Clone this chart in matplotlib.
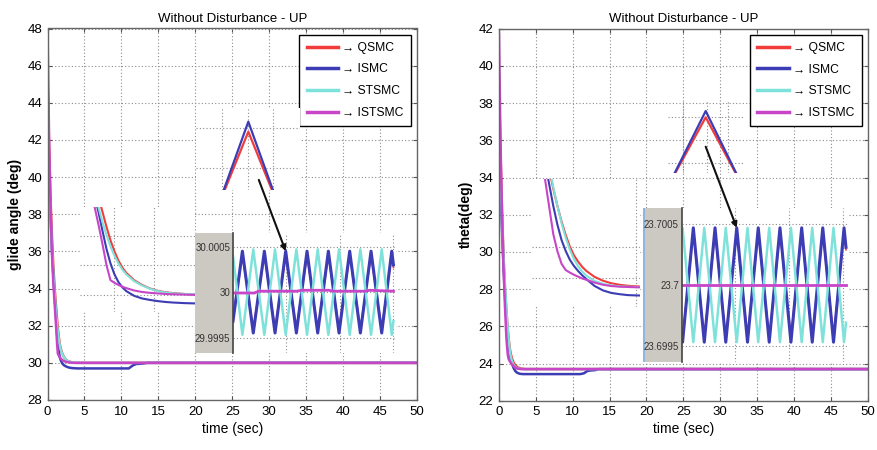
import numpy as np
import matplotlib.pyplot as plt
from matplotlib.lines import Line2D
from matplotlib.patches import Rectangle
from matplotlib.ticker import FuncFormatter

plt.rcParams['font.family'] = ['Liberation Sans', 'DejaVu Sans']
plt.rcParams['font.size'] = 9

W, H = 877, 450

names = ['QSMC', 'ISMC', 'STSMC', 'ISTSMC']
colors = ['#f23b3b', '#3c3cb4', '#7fe2da', '#c845c8']

# simulation time (s)
t_sim = [0, 0.2, 0.4, 0.6, 0.8, 1.0, 1.1, 1.2, 1.3, 1.4, 1.5, 1.6, 1.7, 1.8,
         2.0, 2.2, 2.4, 2.6, 2.8, 3.0, 3.3, 3.6, 4.0, 5.0,
         11.0, 11.5, 12.0, 12.5, 13.0, 13.5, 50.0]

# glide angle (deg)
glide_qsmc = [45.6, 41.8, 38.9, 36.8, 35.1, 33.85, 33.3, 32.8, 32.3, 31.85,
              31.48, 31.17, 30.93, 30.75, 30.5, 30.34, 30.22, 30.14, 30.09, 30.06,
              30.03, 30.01, 30.0, 30.0, 30.0, 30.0, 30.0, 30.0, 30.0, 30.0, 30.0]
glide_ismc = [43.4, 40.4, 38.0, 36.1, 34.6, 33.35, 32.78, 32.15, 31.55, 31.07,
              30.7, 30.44, 30.26, 30.13, 29.97, 29.88, 29.83, 29.79, 29.76, 29.74,
              29.72, 29.71, 29.7, 29.7, 29.7, 29.85, 29.94, 29.95, 29.97, 30.0, 30.0]
glide_stsmc = [43.8, 40.6, 38.1, 36.2, 34.7, 33.5, 32.95, 32.45, 32.02, 31.65,
               31.33, 31.07, 30.86, 30.7, 30.47, 30.32, 30.21, 30.13, 30.08, 30.05,
               30.03, 30.02, 30.01, 30.0, 30.0, 30.0, 30.0, 30.0, 30.0, 30.0, 30.0]
glide_istsmc = [48.0, 42.5, 38.6, 35.9, 34.2, 32.96, 32.35, 31.7, 31.0, 30.5,
                30.41, 30.34, 30.28, 30.23, 30.15, 30.1, 30.07, 30.05, 30.03, 30.02,
                30.01, 30.0, 30.0, 30.0, 30.0, 30.0, 30.0, 30.0, 30.0, 30.0, 30.0]

# pitch angle theta (deg)
theta_qsmc = [39.3, 35.4, 32.3, 29.9, 28.1, 26.85, 26.3, 25.8, 25.37, 25.0,
              24.72, 24.52, 24.35, 24.22, 24.03, 23.91, 23.83, 23.78, 23.75, 23.73,
              23.71, 23.7, 23.7, 23.7, 23.7, 23.7, 23.7, 23.7, 23.7, 23.7, 23.7]
theta_ismc = [37.0, 33.8, 31.2, 29.3, 27.7, 26.3, 25.7, 25.21, 24.86, 24.58,
              24.38, 24.22, 24.08, 23.96, 23.74, 23.6, 23.52, 23.48, 23.45, 23.44,
              23.43, 23.43, 23.43, 23.43, 23.43, 23.47, 23.6, 23.63, 23.64, 23.7, 23.7]
theta_stsmc = [37.4, 34.4, 31.9, 29.9, 28.3, 26.9, 26.3, 25.75, 25.28, 24.9,
               24.6, 24.37, 24.2, 24.07, 23.9, 23.81, 23.76, 23.73, 23.72, 23.71,
               23.7, 23.7, 23.7, 23.7, 23.7, 23.7, 23.7, 23.7, 23.7, 23.7, 23.7]
theta_istsmc = [41.7, 36.0, 32.2, 29.3, 27.16, 25.4, 24.85, 24.45, 24.25, 24.17,
                24.1, 24.04, 23.98, 23.94, 23.85, 23.78, 23.74, 23.72, 23.71, 23.7,
                23.7, 23.7, 23.7, 23.7, 23.7, 23.7, 23.7, 23.7, 23.7, 23.7, 23.7]

# steady-state chattering, glide angle
osc_t_glide = [30.0, 30.044, 30.095, 30.147, 30.197, 30.247, 30.297, 30.347, 30.397,
               30.447, 30.497, 30.547, 30.597, 30.647, 30.697, 30.744, 30.752]
osc_glide_qsmc = [29.99972, 30.0004, 29.9996, 30.0004, 29.9996, 30.0004, 29.9996, 30.0004,
                  29.9996, 30.0004, 29.9996, 30.0004, 29.9996, 30.0004, 29.9996, 30.0004, 30.00027]
osc_glide_ismc = [29.99968, 30.00045, 29.99955, 30.00045, 29.99955, 30.00045, 29.99955, 30.00045,
                  29.99955, 30.00045, 29.99955, 30.00045, 29.99955, 30.00045, 29.99955, 30.00045, 30.0003]
osc_glide_stsmc = [30.0004, 29.99953, 30.00047, 29.99953, 30.00047, 29.99953, 30.00047, 29.99953,
                   30.00047, 29.99953, 30.00047, 29.99953, 30.00047, 29.99953, 30.00047, 29.99953, 29.99968]
osc_t_glide_istsmc = [30.0, 30.1, 30.12, 30.2, 30.3, 30.32, 30.45, 30.47, 30.55, 30.62, 30.64, 30.752]
osc_glide_istsmc = [29.99999, 29.99999, 30.00001, 30.00001, 30.00001, 30.00002, 30.00002,
                    30.00001, 30.00001, 30.00001, 30.00002, 30.00001]

# steady-state chattering, theta
osc_t_theta = [30.0, 30.004, 30.054, 30.105, 30.155, 30.205, 30.256, 30.306, 30.356,
               30.407, 30.457, 30.508, 30.558, 30.607, 30.656, 30.706, 30.755, 30.764]
osc_theta_qsmc = [23.69964, 23.69957, 23.70043, 23.69957, 23.70043, 23.69957, 23.70043, 23.69957, 23.70043,
                  23.69957, 23.70043, 23.69957, 23.70043, 23.69957, 23.70043, 23.69957, 23.70043, 23.70029]
osc_theta_ismc = [23.69961, 23.69953, 23.70047, 23.69953, 23.70047, 23.69953, 23.70047, 23.69953, 23.70047,
                  23.69953, 23.70047, 23.69953, 23.70047, 23.69953, 23.70047, 23.69953, 23.70047, 23.70031]
osc_theta_stsmc = [23.7004, 23.70047, 23.69953, 23.70047, 23.69953, 23.70047, 23.69953, 23.70047, 23.69953,
                   23.70047, 23.69953, 23.70047, 23.69953, 23.70047, 23.69953, 23.70047, 23.69953, 23.69969]
osc_t_theta_istsmc = [30.0, 30.764]
osc_theta_istsmc = [23.7, 23.7]

fig = plt.figure(figsize=(W / 100, H / 100), dpi=100)


def px(x0, y0, x1, y1):
    # pixel box (top-left origin) -> figure fraction rect
    return [x0 / W, 1 - y1 / H, (x1 - x0) / W, (y1 - y0) / H]


def dotted_grid(a):
    a.grid(True, linestyle=(0, (1, 2)), color='#8c8c8c', linewidth=0.8)


def bare_axes(box, xlim, ylim, xticks, yticks, opaque=True):
    a = fig.add_axes(px(*box), zorder=3)
    a.set_xlim(xlim)
    a.set_ylim(ylim)
    a.set_xticks(xticks)
    a.set_yticks(yticks)
    a.tick_params(length=0, labelleft=False, labelbottom=False)
    for s in a.spines.values():
        s.set_visible(False)
    dotted_grid(a)
    if not opaque:
        a.patch.set_alpha(0)
    return a


def main_panel(box, series, ylim, ylabel):
    ax = fig.add_axes(px(*box))
    for y, c in zip(series, colors):
        ax.plot(t_sim, y, color=c, lw=1.8)
    ax.set_xlim(0, 50)
    ax.set_ylim(ylim)
    ax.set_xticks(range(0, 51, 5))
    ax.set_yticks(range(ylim[0], ylim[1] + 1, 2))
    ax.tick_params(direction='in', length=3, top=True, right=True, pad=4,
                   labelsize=9.5, color='#555555')
    dotted_grid(ax)
    for s in ax.spines.values():
        s.set_color('#666666')
        s.set_linewidth(1)
    ax.set_title('Without Disturbance - UP', fontsize=9.5, pad=5)
    ax.set_xlabel('time (sec)', fontsize=10, labelpad=3)
    ax.set_ylabel(ylabel, fontsize=10, fontweight='bold', labelpad=4)
    handles = [Line2D([], [], color=c, lw=2.5) for c in colors]
    leg = ax.legend(handles, ['\u2192 ' + n for n in names], loc='upper right',
                    fancybox=False, edgecolor='k', framealpha=1, fontsize=8.7,
                    handlelength=2.6, handletextpad=0.35, labelspacing=0.8,
                    borderaxespad=0.5, borderpad=0.6)
    leg.get_frame().set_linewidth(1.0)
    return ax


def transient_inset(box, series, xlim, ylim, xticks, yticks):
    a = bare_axes(box, xlim, ylim, xticks, yticks)
    for y, c in zip(series, colors):
        a.plot(t_sim, y, color=c, lw=1.5)
    return a


def peak_inset(box, t, red, blue, xlim, ylim, xticks, yticks, opaque):
    a = bare_axes(box, xlim, ylim, xticks, yticks, opaque)
    a.plot(t, red, color=colors[0], lw=1.6)
    a.plot(t, blue, color=colors[1], lw=1.6)
    return a


def osc_inset(box, gray, t, red, blue, cyan, mt, mag, xlim, ylim, yticks, edge=False):
    fig.add_artist(Rectangle((gray[0] / W, 1 - gray[3] / H), (gray[2] - gray[0]) / W,
                             (gray[3] - gray[1]) / H, transform=fig.transFigure,
                             facecolor='#ccc8c2', edgecolor='none', zorder=2))
    if edge:
        fig.add_artist(Rectangle((gray[0] / W, 1 - gray[3] / H), 2 / W,
                                 (gray[3] - gray[1]) / H, transform=fig.transFigure,
                                 facecolor='#8db6e0', edgecolor='none', zorder=2))
    a = bare_axes(box, xlim, ylim, [30.25, 30.5, 30.75], yticks)
    a.spines['left'].set_visible(True)
    a.spines['left'].set_color('#444444')
    a.spines['left'].set_linewidth(1.2)
    a.tick_params(labelleft=True, labelsize=7, pad=2, labelcolor='#333333')
    a.yaxis.set_major_formatter(FuncFormatter(lambda v, _: f'{v:g}'))
    a.plot(t, red, color=colors[0], lw=1.2)
    a.plot(t, blue, color=colors[1], lw=2.2)
    a.plot(t, cyan, color=colors[2], lw=1.8)
    a.plot(mt, mag, color=colors[3], lw=2.0)
    return a


def pointer(osc_ax, peak_ax, tip, tail):
    osc_ax.annotate('', xy=tip, xytext=tail, textcoords=peak_ax.transData,
                    arrowprops=dict(arrowstyle='-|>', color='#111111', lw=1.5,
                                    mutation_scale=8, shrinkA=0, shrinkB=0))


# ---------------- glide angle ----------------
main_panel((47.5, 28.5, 417, 400),
           [glide_qsmc, glide_ismc, glide_stsmc, glide_istsmc], (28, 48), 'glide angle (deg)')
transient_inset((80, 207, 195, 312), [glide_qsmc, glide_ismc, glide_stsmc, glide_istsmc],
                (0.625, 3.55), (29.42, 32.98), [1.5, 2.5], [30, 31, 32])
pk1 = peak_inset((196, 108, 300, 190), osc_t_glide, osc_glide_qsmc, osc_glide_ismc,
                 (30.2066, 30.2869), (30.0001085, 30.0005185),
                 [30.2265, 30.247, 30.2661], [30.000217, 30.000417], True)
os1 = osc_inset((233, 233, 396, 353), (195, 233, 233, 353), osc_t_glide,
                osc_glide_qsmc, osc_glide_ismc, osc_glide_stsmc,
                osc_t_glide_istsmc, osc_glide_istsmc,
                (30.0, 30.764), (29.99933, 30.00065), [29.9995, 30, 30.0005])
pointer(os1, pk1, (30.247, 30.00045), (30.2551, 30.000159))

# ---------------- theta ----------------
main_panel((499, 28.7, 867.7, 400.7),
           [theta_qsmc, theta_ismc, theta_stsmc, theta_istsmc], (22, 42), 'theta(deg)')
transient_inset((532, 179, 640, 307), [theta_qsmc, theta_ismc, theta_stsmc, theta_istsmc],
                (0.486, 3.095), (23.07, 27.16), [3.0], [24, 25])
pk2 = peak_inset((668, 100, 743, 173), osc_t_theta, osc_theta_qsmc, osc_theta_ismc,
                 (30.230, 30.2817), (23.700076, 23.70054),
                 [30.2406, 30.2567, 30.2714], [23.700142, 23.700434], False)
os2 = osc_inset((681.7, 208, 849, 362), (643, 208, 681.7, 362), osc_t_theta,
                osc_theta_qsmc, osc_theta_ismc, osc_theta_stsmc,
                osc_t_theta_istsmc, osc_theta_istsmc,
                (30.0, 30.778), (23.699367, 23.700633), [23.6995, 23.7, 23.7005], edge=True)
pointer(os2, pk2, (30.256, 23.70047), (30.256, 23.700243))

fig.savefig('out.png', dpi=100)
